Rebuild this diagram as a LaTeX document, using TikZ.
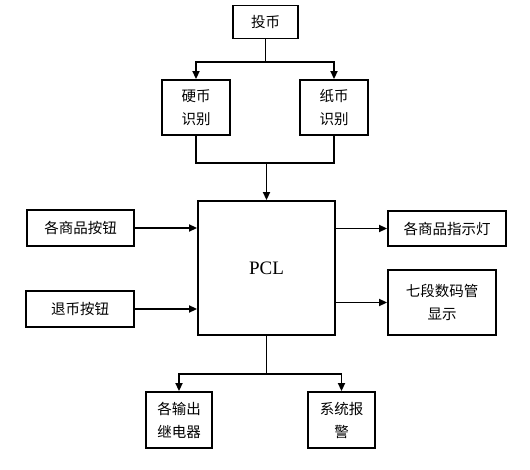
\documentclass[tikz,border=0pt]{standalone}
\usepackage{fontspec}
\setmainfont{Liberation Serif}
\newfontfamily\cjk{Noto Sans CJK SC}
\usetikzlibrary{arrows.meta}
\tikzset{
  box/.style={draw=black, line width=1.9pt, fill=white, align=center, inner sep=0pt,
    font=\cjk\fontsize{14.5}{23}\selectfont},
  arr/.style={line width=1.9pt, -{Triangle[length=8pt,width=7pt]}},
  ln/.style={line width=1.9pt}
}
\begin{document}
\begin{tikzpicture}[x=1pt,y=-1pt]
\useasboundingbox[fill=white] (0,0) rectangle (530,470);
\node[box, minimum width=65pt, minimum height=33pt] (tb) at (265.5,22) {投币};
\node[box, minimum width=68pt, minimum height=55pt] (yb) at (196,107.5) {硬币\\识别};
\node[box, minimum width=68pt, minimum height=55pt] (zb) at (334,107.5) {纸币\\识别};
\node[box, minimum width=137pt, minimum height=134pt, font=\fontsize{19}{21}\selectfont] (pcl) at (266.5,268) {PCL};
\node[box, minimum width=107pt, minimum height=36pt] (an) at (80.5,228) {各商品按钮};
\node[box, minimum width=108pt, minimum height=36pt] (tbn) at (80,309) {退币按钮};
\node[box, minimum width=118pt, minimum height=35pt] (zsd) at (447,228.5) {各商品指示灯};
\node[box, minimum width=108pt, minimum height=65pt] (qd) at (442,302.5) {七段数码管\\显示};
\node[box, minimum width=66pt, minimum height=56pt] (jdq) at (179,420) {各输出\\继电器};
\node[box, minimum width=67pt, minimum height=56pt] (bj) at (341.5,420) {系统报\\警};
\coordinate (j1) at (265.5,62);
\coordinate (j2) at (266.5,163);
\coordinate (j3) at (266.5,374);
\draw[ln] (tb.south) -- (j1);
\draw[arr] (j1) -| (yb.north);
\draw[arr] (j1) -| (zb.north);
\draw[ln] (yb.south) |- (j2);
\draw[ln] (zb.south) |- (j2);
\draw[arr] (j2) -- (pcl.north);
\draw[arr] (an.east) -- (an.east -| pcl.west);
\draw[arr] (tbn.east) -- (tbn.east -| pcl.west);
\draw[arr] (pcl.east |- zsd.west) -- (zsd.west);
\draw[arr] (pcl.east |- qd.west) -- (qd.west);
\draw[ln] (pcl.south) -- (j3);
\draw[arr] (j3) -| (jdq.north);
\draw[arr] (j3) -| (bj.north);
\end{tikzpicture}
\end{document}
